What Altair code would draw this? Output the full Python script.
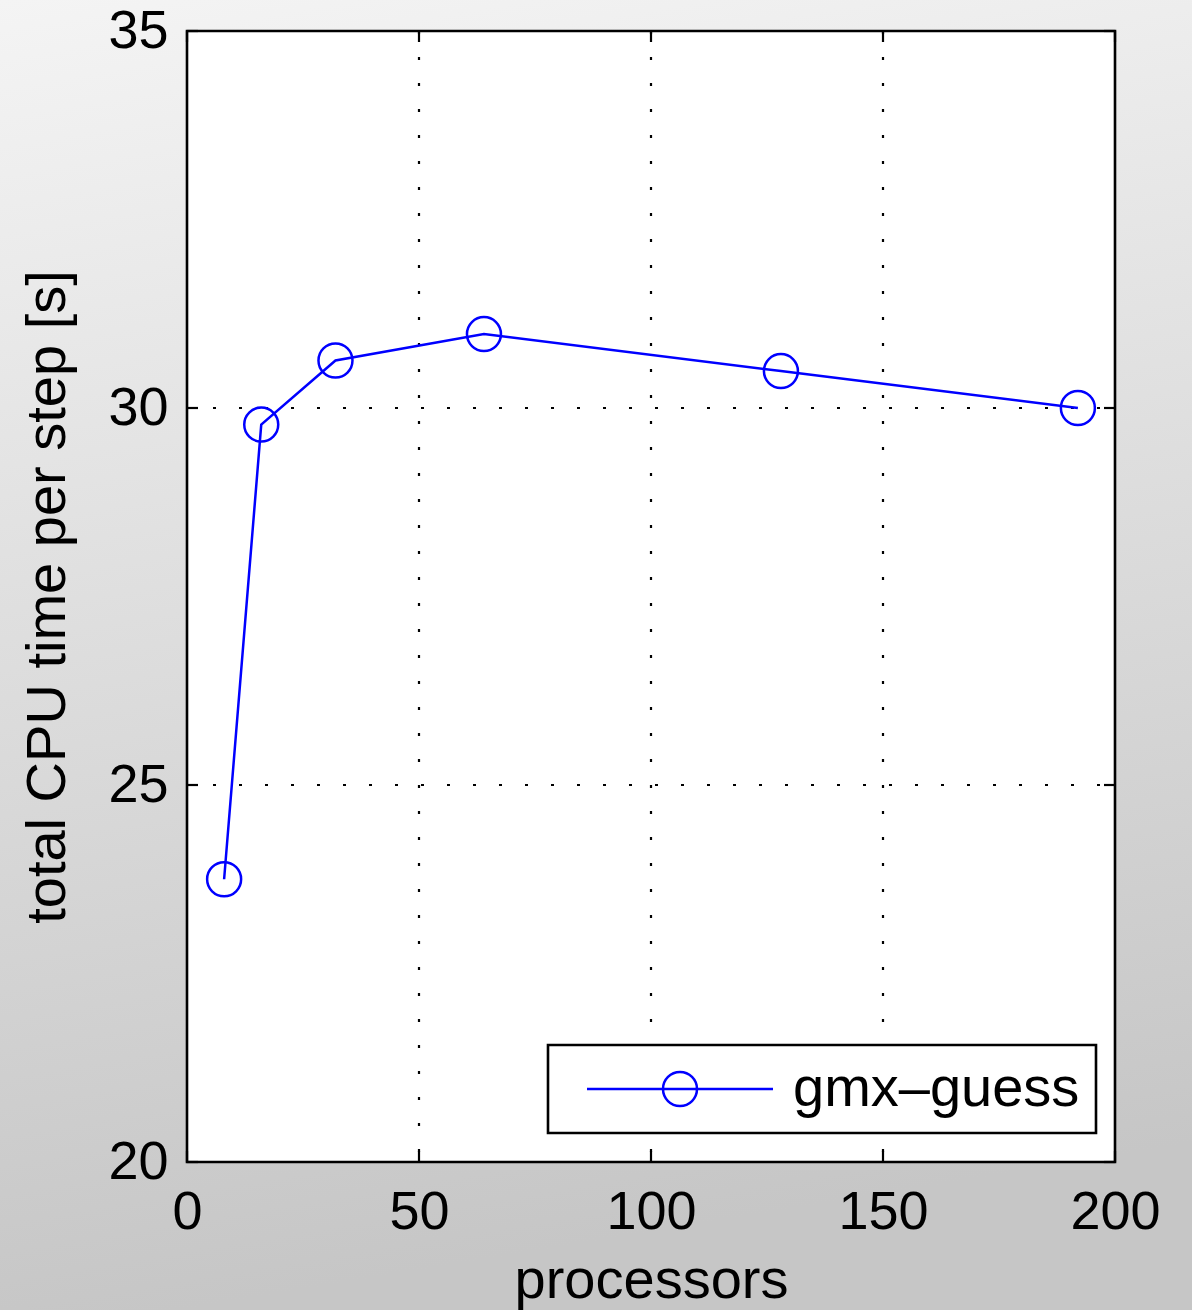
import altair as alt
import pandas as pd

# Measured total CPU time per MD step for the gmx-guess run
processors = [8, 16, 32, 64, 128, 192]
cpu_time = [23.75, 29.78, 30.63, 30.98, 30.49, 30.0]
series_name = "gmx–guess"

x_ticks = [0, 50, 100, 150, 200]
y_ticks = [20, 25, 30, 35]
x_grid = [50, 100, 150]
y_grid = [25, 30]

W, H = 928, 1131
PAD = {"left": 187, "top": 31, "right": 77, "bottom": 148}
FONT = "Liberation Sans"

df = pd.DataFrame({"p": processors, "t": cpu_time, "s": [series_name] * len(processors)})
one = pd.DataFrame({"k": [0]})

xs = alt.Scale(domain=[0, 200], nice=False, zero=False)
ys = alt.Scale(domain=[20, 35], nice=False, zero=False)

x_axis = alt.Axis(values=x_ticks, format="d", grid=False, ticks=False, domain=False,
                  labelFlush=False, labelOverlap=False,
                  labelFontSize=54, labelFont=FONT, labelColor="black",
                  labelPadding=23, title="processors", titleFont=FONT,
                  titleFontSize=56, titleFontWeight="normal", titleColor="black",
                  titlePadding=14, zindex=1)
y_axis = alt.Axis(values=y_ticks, format="d", grid=False, ticks=False, domain=False,
                  labelFlush=False, labelOverlap=False,
                  labelFontSize=54, labelFont=FONT, labelColor="black",
                  labelPadding=19, title="total CPU time per step [s]",
                  titleFont=FONT, titleFontSize=56, titleFontWeight="normal",
                  titleColor="black", titlePadding=31, zindex=1)

# grey gradient page background, spanning the whole canvas
bg = alt.Chart(one).mark_rect(
    fill=alt.Gradient(gradient="linear",
                      stops=[alt.GradientStop(color="#f4f4f4", offset=0),
                             alt.GradientStop(color="#c6c6c6", offset=1)],
                      x1=0, x2=0.15, y1=0, y2=1)
).encode(x=alt.value(-PAD["left"]), x2=alt.value(W + PAD["right"]),
         y=alt.value(-PAD["top"]), y2=alt.value(H + PAD["bottom"]))

# white plotting area
area = alt.Chart(one).mark_rect(fill="white").encode(
    x=alt.value(0), x2=alt.value(W), y=alt.value(0), y2=alt.value(H))

dots = [3, 23]
gx = alt.Chart(pd.DataFrame({"v": x_grid})).mark_rule(
    color="black", strokeWidth=2.2, strokeDash=dots).encode(
    x=alt.X("v:Q", scale=xs, axis=x_axis), y=alt.value(0), y2=alt.value(H))
gy = alt.Chart(pd.DataFrame({"v": y_grid})).mark_rule(
    color="black", strokeWidth=2.2, strokeDash=dots).encode(
    y=alt.Y("v:Q", scale=ys, axis=y_axis), x=alt.value(0), x2=alt.value(W))

# inward ticks on all four sides of the box
TL = 11
tx = pd.DataFrame({"v": x_ticks})
ty = pd.DataFrame({"v": y_ticks})
tick_style = dict(color="black", strokeWidth=2.2)
tb = alt.Chart(tx).mark_rule(**tick_style).encode(
    x=alt.X("v:Q", scale=xs), y=alt.value(H), y2=alt.value(H - TL))
tt = alt.Chart(tx).mark_rule(**tick_style).encode(
    x=alt.X("v:Q", scale=xs), y=alt.value(0), y2=alt.value(TL))
tl = alt.Chart(ty).mark_rule(**tick_style).encode(
    y=alt.Y("v:Q", scale=ys), x=alt.value(0), x2=alt.value(TL))
tr = alt.Chart(ty).mark_rule(**tick_style).encode(
    y=alt.Y("v:Q", scale=ys), x=alt.value(W), x2=alt.value(W - TL))

# legend glyph: a line with a hollow circle, in units of half the symbol box (20 px)
half_len, rad = 4.65, 0.85
legend_symbol = (f"M-{half_len},0H{half_len}"
                 f"M{rad},0A{rad},{rad},0,1,1,-{rad},0A{rad},{rad},0,1,1,{rad},0Z")
LP = 16
color = alt.Color("s:N", scale=alt.Scale(domain=[series_name], range=["#0000ff"]),
                  legend=alt.Legend(title=None, orient="none", legendX=548 - PAD["left"],
                                    legendY=1045 - PAD["top"], padding=LP,
                                    symbolOffset=88,
                                    strokeColor="black", fillColor="white",
                                    symbolType=legend_symbol, symbolSize=1600,
                                    symbolStrokeWidth=2.5,
                                    symbolFillColor="transparent",
                                    labelFont=FONT, labelFontSize=56,
                                    labelColor="black", labelOffset=85,
                                    labelLimit=400, rowPadding=0))

line = alt.Chart(df).mark_line(strokeWidth=2.5).encode(
    x=alt.X("p:Q", scale=xs), y=alt.Y("t:Q", scale=ys), color=color)
pts = alt.Chart(df).mark_point(filled=False, size=1156, strokeWidth=2.5, opacity=1).encode(
    x=alt.X("p:Q", scale=xs), y=alt.Y("t:Q", scale=ys), color=color)

frame = alt.Chart(one).mark_rect(fill="transparent", stroke="black", strokeWidth=2.6).encode(
    x=alt.value(0), x2=alt.value(W), y=alt.value(0), y2=alt.value(H))

chart = alt.layer(bg, area, gx, gy, tb, tt, tl, tr, line, pts, frame).properties(
    width=W, height=H, padding=PAD,
    autosize=alt.AutoSizeParams(type="none"),
    background="#dddddd",
).configure_view(strokeWidth=0).configure_legend(strokeWidth=2.6)

chart.save("out.html", embed_options={"renderer": "svg", "actions": False})
